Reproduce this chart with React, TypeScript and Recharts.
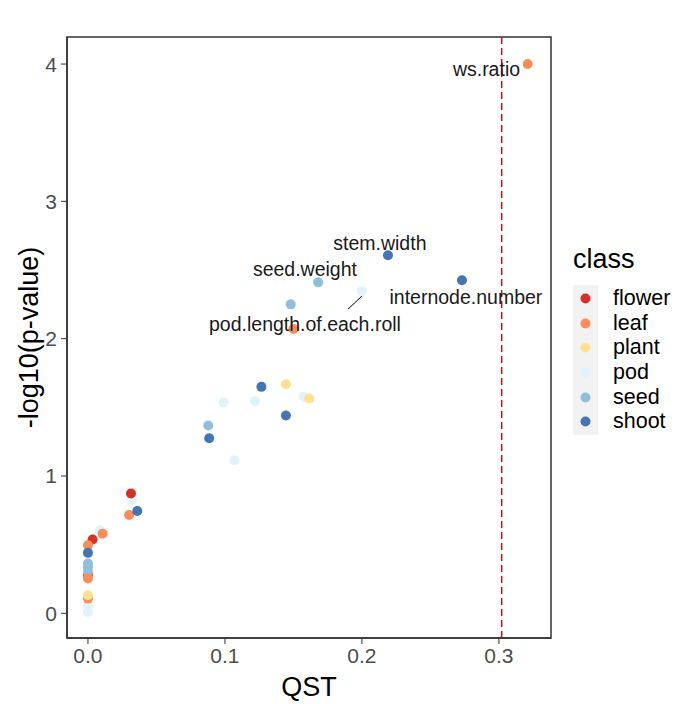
import {
  ScatterChart,
  Scatter,
  XAxis,
  YAxis,
  ReferenceLine,
  ReferenceArea,
} from 'recharts';

type Point = { qst: number; logp: number };

const classNames = ['flower', 'leaf', 'plant', 'pod', 'seed', 'shoot'];
const classColors = ['#D73027', '#FC8D59', '#FEE090', '#E0F3F8', '#91BFDB', '#4575B4'];

// [QST, -log10(p)] per class
const flowerPts = [
  [0.0314, 0.872],
  [0.0034, 0.537],
  [0, 0.28],
];
const leafPts = [
  [0.321, 4.0],
  [0.15, 2.07],
  [0.03, 0.716],
  [0.0107, 0.58],
  [0, 0.495],
  [0, 0.253],
  [0, 0.107],
];
const plantPts = [
  [0.1445, 1.668],
  [0.1615, 1.564],
  [0, 0.131],
];
const podPts = [
  [0.2, 2.346],
  [0.1577, 1.576],
  [0.099, 1.535],
  [0.122, 1.545],
  [0.107, 1.115],
  [0.032, 0.828],
  [0.0088, 0.605],
  [0, 0.058],
  [0, 0.01],
];
const seedPts = [
  [0.168, 2.41],
  [0.148, 2.25],
  [0.0878, 1.367],
  [0, 0.362],
  [0, 0.333],
  [0, 0.3],
];
const shootPts = [
  [0.219, 2.608],
  [0.273, 2.426],
  [0.1266, 1.649],
  [0.1445, 1.44],
  [0.0885, 1.275],
  [0.036, 0.745],
  [0, 0.44],
];

const labelNames = ['ws.ratio', 'stem.width', 'seed.weight', 'internode.number', 'pod.length.of.each.roll'];
const labelQst = [0.2909, 0.2131, 0.1584, 0.2759, 0.1584];
const labelLogp = [3.964, 2.696, 2.506, 2.302, 2.106];

const xTicks = [0, 0.1, 0.2, 0.3];
const yTicks = [0, 1, 2, 3, 4];
const qstThreshold = 0.302;

const toPoints = (arr: number[][]): Point[] => arr.map(([qst, logp]) => ({ qst, logp }));
const seriesByClass: Record<string, Point[]> = {
  flower: toPoints(flowerPts),
  leaf: toPoints(leafPts),
  plant: toPoints(plantPts),
  pod: toPoints(podPts),
  seed: toPoints(seedPts),
  shoot: toPoints(shootPts),
};
const drawOrder = ['pod', 'flower', 'seed', 'leaf', 'plant', 'shoot'];

const labelData = labelNames.map((name, i) => ({ name, qst: labelQst[i], logp: labelLogp[i] }));

const FONT = '"Liberation Sans", Arial, sans-serif';

const Dot = (props: any) => <circle cx={props.cx} cy={props.cy} r={5} fill={props.fill} />;

const TextMark = (props: any) => (
  <text
    x={props.cx}
    y={props.cy}
    dy="0.35em"
    textAnchor="middle"
    fontSize={19.5}
    fontFamily={FONT}
    fill="#1a1a1a"
  >
    {props.payload.name}
  </text>
);

const ClassLegend = () => (
  <div style={{ position: 'absolute', left: 573, top: 246, fontFamily: FONT, color: '#000' }}>
    <div style={{ fontSize: 27, lineHeight: '27px', marginBottom: 12 }}>class</div>
    <div style={{ display: 'flex' }}>
      <div style={{ background: '#F2F2F2', width: 25, padding: '1px 0' }}>
        {classNames.map((c, i) => (
          <div key={c} style={{ height: 24.7, display: 'flex', alignItems: 'center', justifyContent: 'center' }}>
            <svg width={11} height={11}>
              <circle cx={5.5} cy={5.5} r={5} fill={classColors[i]} />
            </svg>
          </div>
        ))}
      </div>
      <div style={{ padding: '1px 0 1px 15px' }}>
        {classNames.map((c) => (
          <div key={c} style={{ height: 24.7, lineHeight: '24.7px', fontSize: 21.5 }}>
            {c}
          </div>
        ))}
      </div>
    </div>
  </div>
);

export default function App() {
  return (
    <div style={{ position: 'absolute', left: 0, top: 0, width: 675, height: 704, background: '#fff' }}>
      <ScatterChart
        width={675}
        height={704}
        margin={{ top: 37, right: 124, bottom: 6, left: 7 }}
      >
        <XAxis
          type="number"
          dataKey="qst"
          domain={[-0.0153, 0.338]}
          ticks={xTicks}
          tickFormatter={(v: number) => v.toFixed(1)}
          height={60}
          tickSize={6}
          tickMargin={4}
          tick={{ fill: '#4D4D4D', fontSize: 21, fontFamily: FONT }}
          axisLine={{ stroke: '#333', strokeWidth: 1.5 }}
          tickLine={{ stroke: '#333' }}
          label={{ value: 'QST', position: 'insideBottom', offset: 2, fill: '#000', fontSize: 27, fontFamily: FONT }}
        />
        <YAxis
          type="number"
          dataKey="logp"
          domain={[-0.18, 4.197]}
          ticks={yTicks}
          width={60}
          tickSize={6}
          tickMargin={4}
          tick={{ fill: '#4D4D4D', fontSize: 21, fontFamily: FONT }}
          axisLine={{ stroke: '#333', strokeWidth: 1.5 }}
          tickLine={{ stroke: '#333' }}
          label={{
            value: '-log10(p-value)',
            angle: -90,
            position: 'insideLeft',
            offset: 21,
            fill: '#000',
            fontSize: 27,
            fontFamily: FONT,
            style: { textAnchor: 'middle' },
          }}
        />
        <ReferenceArea
          x1={-0.0153}
          x2={0.338}
          y1={-0.18}
          y2={4.197}
          fill="none"
          stroke="#333"
          strokeWidth={1.5}
          ifOverflow="visible"
        />
        <ReferenceLine x={qstThreshold} stroke="#B2182B" strokeWidth={1.5} strokeDasharray="7 4" />
        <ReferenceLine
          segment={[
            { x: 0.1898, y: 2.215 },
            { x: 0.2015, y: 2.324 },
          ]}
          stroke="#000"
          strokeWidth={1}
        />
        {drawOrder.map((c) => (
          <Scatter
            key={c}
            name={c}
            data={seriesByClass[c]}
            fill={classColors[classNames.indexOf(c)]}
            shape={Dot}
            isAnimationActive={false}
          />
        ))}
        <Scatter name="labels" data={labelData} shape={TextMark} isAnimationActive={false} legendType="none" />
      </ScatterChart>
      <ClassLegend />
    </div>
  );
}
